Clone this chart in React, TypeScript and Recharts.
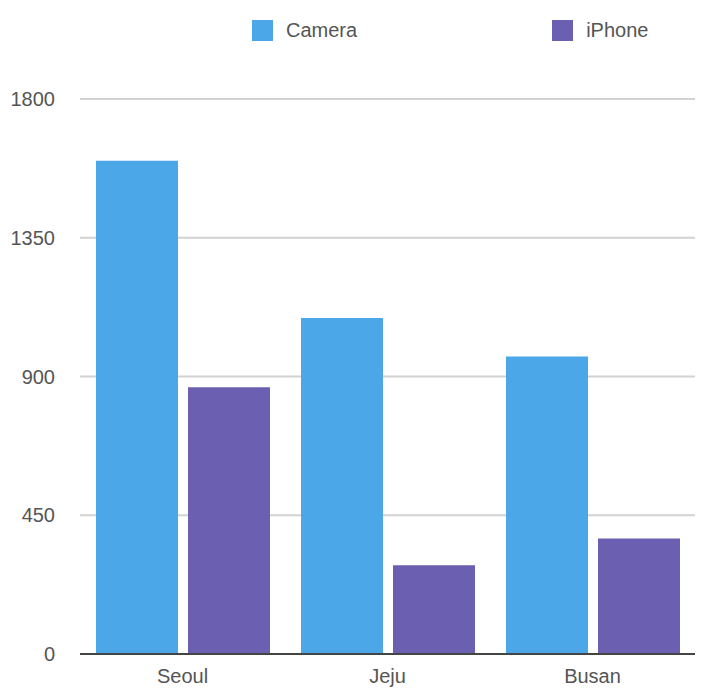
import { Bar, BarChart, CartesianGrid, Legend, XAxis, YAxis } from "recharts";

const cities = ["Seoul", "Jeju", "Busan"];
const cameraSales = [1600, 1090, 965];
const iphoneSales = [865, 288, 375];
const yTicks = [0, 450, 900, 1350, 1800];

const seriesColors = { camera: "#4ba7e8", iphone: "#6b5fb1" };

const data = cities.map((city, i) => ({
  city,
  camera: cameraSales[i],
  iphone: iphoneSales[i]
}));

function ChartLegend({ payload }: { payload?: Array<{ value: string; color: string }> }) {
  return (
    <div style={{ display: "flex", paddingLeft: 252, height: 60, alignItems: "center", fontFamily: "Liberation Sans, Arial, sans-serif", fontSize: 20, color: "#555" }}>
      {(payload ?? []).map((item, i) => (
        <div key={item.value} style={{ display: "flex", alignItems: "center", marginRight: i === 0 ? 195 : 0 }}>
          <span style={{ width: 21, height: 21, background: item.color, display: "inline-block", marginRight: 13 }} />
          <span>{item.value}</span>
        </div>
      ))}
    </div>
  );
}

export default function App() {
  return (
    <div style={{ position: "absolute", left: 0, top: 0, width: 701, height: 690, background: "#fff" }}>
      <BarChart
        width={701}
        height={690}
        data={data}
        margin={{ top: 39, right: 6, bottom: 0, left: 0 }}
        barCategoryGap={16}
        barGap={10}
      >
        <CartesianGrid vertical={false} stroke="#d2d2d2" strokeWidth={2} />
        <XAxis
          dataKey="city"
          axisLine={{ stroke: "#444", strokeWidth: 2 }}
          tickLine={false}
          tickSize={0}
          tickMargin={15}
          height={36}
          tick={{ fill: "#555", fontSize: 20, fontFamily: "Liberation Sans, Arial, sans-serif" }}
        />
        <YAxis
          domain={[0, 1800]}
          ticks={yTicks}
          width={80}
          axisLine={false}
          tickLine={false}
          tickSize={0}
          tickMargin={25}
          tick={{ fill: "#555", fontSize: 20, fontFamily: "Liberation Sans, Arial, sans-serif" }}
        />
        <Legend verticalAlign="top" wrapperStyle={{ top: 0, left: 0, width: 701 }} content={<ChartLegend />} />
        <Bar dataKey="camera" name="Camera" fill={seriesColors.camera} isAnimationActive={false} />
        <Bar dataKey="iphone" name="iPhone" fill={seriesColors.iphone} isAnimationActive={false} />
      </BarChart>
    </div>
  );
}
